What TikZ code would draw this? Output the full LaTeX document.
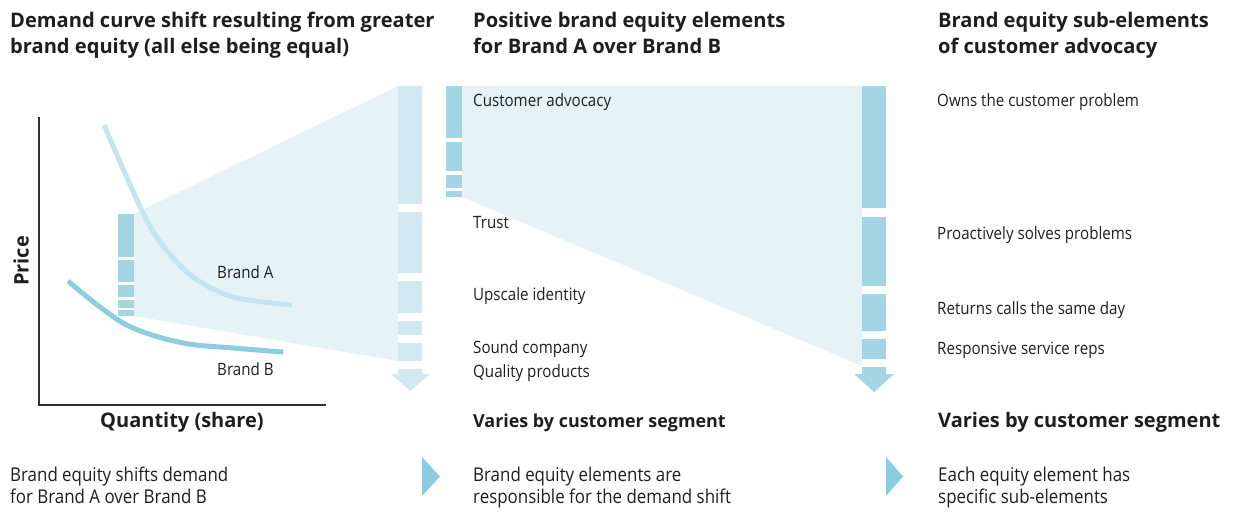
\documentclass[tikz,border=0pt]{standalone}
\usepackage{fontspec}
\setmainfont{Open Sans}[FakeStretch=0.89, BoldFeatures={FakeStretch=1.0}]
\definecolor{bardark}{RGB}{163,213,229}
\definecolor{barlight}{RGB}{209,234,242}
\definecolor{funnel}{RGB}{229,243,247}
\definecolor{curveA}{RGB}{196,228,239}
\definecolor{curveB}{RGB}{142,205,223}
\definecolor{tri}{RGB}{139,204,222}
\definecolor{txt}{RGB}{30,30,30}
\definecolor{axis}{RGB}{50,50,50}
\tikzset{
  title/.style={anchor=base west, inner sep=0pt, font=\bfseries\fontsize{20.1}{26}\selectfont, text=txt, align=left},
  lbl/.style={anchor=base west, inner sep=0pt, font=\fontsize{17}{22}\selectfont, text=txt},
  caplbl/.style={anchor=base west, inner sep=0pt, font=\fontsize{19}{22}\selectfont, text=txt},
  sublbl/.style={anchor=base west, inner sep=0pt, font=\bfseries\fontsize{20}{26}\selectfont, text=txt},
  segdark/.style={fill=bardark, draw=none},
  seglight/.style={fill=barlight, draw=none},
}
\begin{document}
\begin{tikzpicture}[x=1pt, y=-1pt]
\useasboundingbox (0,0) rectangle (1233,512);

% titles
\node[title] (t1a) at (10,27) {Demand curve shift resulting from greater};
\node[title] (t1b) at (10,53) {brand equity (all else being equal)};
\node[title] (t2a) at (473,27) {Positive brand equity elements};
\node[title] (t2b) at (473,53) {for Brand A over Brand B};
\node[title] (t3a) at (938,27) {Brand equity sub-elements};
\node[title] (t3b) at (938,53) {of customer advocacy};

% funnels
\fill[funnel] (134,214) -- (398,86) -- (398,361) -- (134,316) -- cycle;
\fill[funnel] (462,86) -- (862,86) -- (862,366) -- (462,197) -- cycle;

% demand curves
\draw[curveA, line width=5pt] plot[smooth, tension=0.55] coordinates {(104,125) (143,213) (164,247) (193,277) (233,297) (292,305)};
\draw[curveB, line width=5pt] plot[smooth, tension=0.6] coordinates {(68,281) (100,307) (133,328) (183,343) (233,348) (283,352)};

% axes
\draw[axis, line width=1.6pt] (39,117) -- (39,405) -- (326,405);

% small bar in chart
\fill[segdark] (118,214) rectangle (134,257);
\fill[segdark] (118,260) rectangle (134,282);
\fill[segdark] (118,285) rectangle (134,297);
\fill[segdark] (118,300) rectangle (134,307.5);
\fill[segdark] (118,310) rectangle (134,316);

% big light bar
\fill[seglight] (398,86) rectangle (422,204);
\fill[seglight] (398,212) rectangle (422,273);
\fill[seglight] (398,281) rectangle (422,313);
\fill[seglight] (398,321) rectangle (422,335);
\fill[seglight] (398,343) rectangle (422,361);
\fill[seglight] (398,369) -- (422,369) -- (422,374) -- (430,374) -- (410,391) -- (391,374) -- (398,374) -- cycle;

% small bar middle
\fill[segdark] (446,86) rectangle (462,138);
\fill[segdark] (446,142) rectangle (462,171);
\fill[segdark] (446,175) rectangle (462,188);
\fill[segdark] (446,191) rectangle (462,197);

% big dark bar right
\fill[segdark] (862,86) rectangle (886,208);
\fill[segdark] (862,217) rectangle (886,286);
\fill[segdark] (862,294) rectangle (886,331);
\fill[segdark] (862,339) rectangle (886,359);
\fill[segdark] (862,367) -- (886,367) -- (886,374) -- (894,374) -- (874,392) -- (854,374) -- (862,374) -- cycle;

% chart labels
\node[lbl] (ba) at (217,278) {Brand A};
\node[lbl] (bb) at (217,375) {Brand B};
\node[sublbl, anchor=center, rotate=90] (price) at (21,261) {Price};
\node[sublbl, anchor=base] (qty) at (182,427) {Quantity (share)};

% middle labels
\node[lbl] (m1) at (473,106) {Customer advocacy};
\node[lbl] (m2) at (473,228) {Trust};
\node[lbl] (m3) at (473,300) {Upscale identity};
\node[lbl] (m4) at (473,353) {Sound company};
\node[lbl] (m5) at (473,377) {Quality products};

% right labels
\node[lbl] (r1) at (937,106) {Owns the customer problem};
\node[lbl] (r2) at (937,239) {Proactively solves problems};
\node[lbl] (r3) at (937,314) {Returns calls the same day};
\node[lbl] (r4) at (937,354) {Responsive service reps};

% segment captions
\node[sublbl, font=\bfseries\fontsize{17.9}{26}\selectfont] (v1) at (473,427) {Varies by customer segment};
\node[sublbl, font=\bfseries\fontsize{20}{26}\selectfont] (v2) at (938,427) {Varies by customer segment};

% bottom captions
\node[caplbl] (c1a) at (10,481) {Brand equity shifts demand};
\node[caplbl] (c1b) at (10,503) {for Brand A over Brand B};
\node[caplbl] (c2a) at (473,481) {Brand equity elements are};
\node[caplbl] (c2b) at (473,503) {responsible for the demand shift};
\node[caplbl] (c3a) at (938,481) {Each equity element has};
\node[caplbl] (c3b) at (938,503) {specific sub-elements};

% triangles
\fill[tri] (422,457) -- (440,476.5) -- (422,496) -- cycle;
\fill[tri] (886,457) -- (903,476.5) -- (886,496) -- cycle;
\end{tikzpicture}
\end{document}
